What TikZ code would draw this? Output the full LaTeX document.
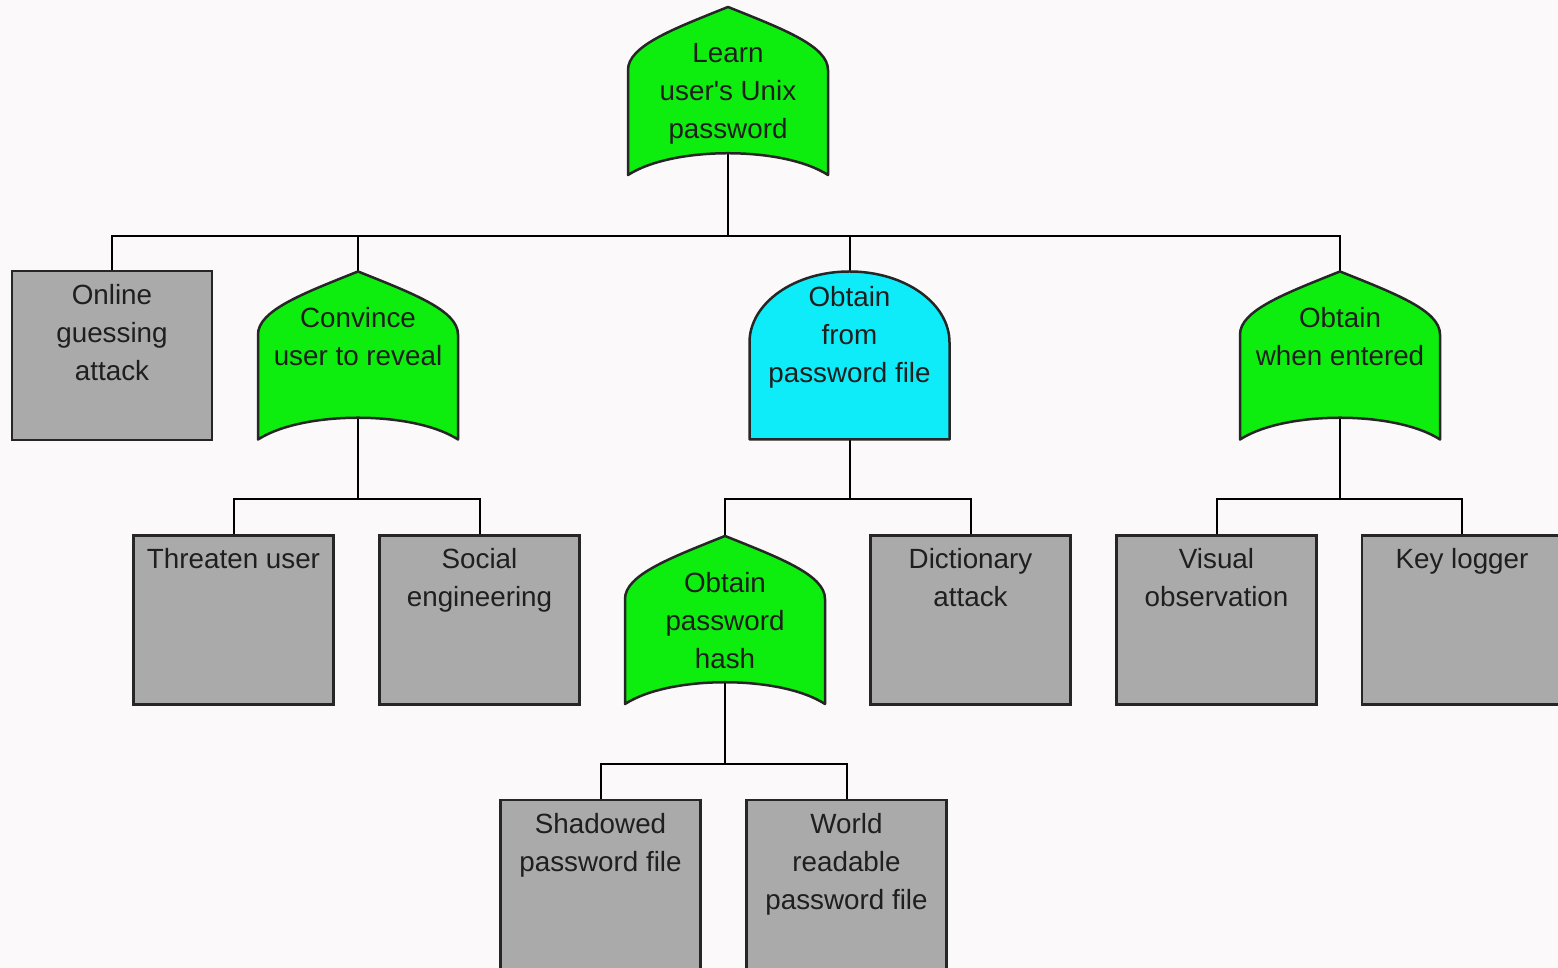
\documentclass[tikz,border=0pt]{standalone}
\usepackage{fontspec}
\setmainfont{Liberation Sans}[Ligatures=TeXOff]
\usetikzlibrary{positioning}
\definecolor{orgreen}{RGB}{14,238,14}
\definecolor{andcyan}{RGB}{14,236,250}
\definecolor{leafgray}{RGB}{170,170,170}
\definecolor{edgegray}{RGB}{38,38,38}
\definecolor{paper}{RGB}{251,249,249}
\pgfdeclarelayer{edgelayer}
\pgfdeclarelayer{background}
\pgfsetlayers{edgelayer,background,main}
\tikzstyle{leaf} = [rectangle, minimum width=200pt, minimum height=169pt, inner sep=0pt, draw=edgegray, line width=2.5pt, fill=leafgray, execute at begin node={\begin{minipage}[c][143pt][t]{190pt}\centering}, execute at end node={\end{minipage}}]
\tikzstyle{orgate} = [rectangle, minimum width=200pt, minimum height=168pt, inner sep=0pt, execute at begin node={\begin{minipage}[c][96pt][t]{190pt}\centering}, execute at end node={\end{minipage}}]
\tikzstyle{andgate} = [rectangle, minimum width=200pt, minimum height=168pt, inner sep=0pt, execute at begin node={\begin{minipage}[c][138pt][t]{190pt}\centering}, execute at end node={\end{minipage}}]
\tikzstyle{gateline} = [line width=2.5pt, draw=edgegray, line join=round]
\tikzstyle{link} = [line width=2pt, draw=black]
% gate outlines, drawn round the node centre
\newcommand{\orshape}[1]{\filldraw[gateline, fill=orgreen, shift={(#1.center)}] (-100,-84) -- (-100,21) .. controls (-100,45) and (-55,62) .. (0,84) .. controls (55,62) and (100,45) .. (100,21) -- (100,-84) .. controls (55,-55) and (-55,-55) .. cycle;}
\newcommand{\andshape}[1]{\filldraw[gateline, fill=andcyan, shift={(#1.center)}] (-100,-84) -- (-100,13) arc[start angle=180, end angle=0, x radius=100, y radius=71] -- (100,-84) -- cycle;}

\begin{document}
\begin{tikzpicture}[x=1pt, y=1pt, node distance=264.5pt, every node/.style={font=\fontsize{27.8pt}{38pt}\selectfont, text=black!88}]
	\useasboundingbox (0,0) rectangle (1558,968);

	\node (B1) [orgate] at (728,877) {Learn\\user's Unix\\password};

	\node (B2) [leaf, below of = B1, xshift = -616pt] {Online\\guessing\\attack};
	\node (B3) [orgate, below of = B1, xshift = -370pt] {Convince\\user to reveal};
	\node (B4) [andgate, below of = B1, xshift = 121.5pt] {Obtain\\from\\password file};
	\node (B5) [orgate, below of = B1, xshift = 612pt] {Obtain\\when entered};

	\node (B6) [leaf, below of = B3, xshift = -124.5pt] {Threaten user};
	\node (B7) [leaf, below of = B3, xshift = 121.5pt] {Social\\engineering};
	\node (B8) [orgate, below of = B4, xshift = -124.5pt] {Obtain\\password\\hash};
	\node (B9) [leaf, below of = B4, xshift = 121pt] {Dictionary\\attack};
	\node (B10) [leaf, below of = B5, xshift = -123.5pt] {Visual\\observation};
	\node (B11) [leaf, below of = B5, xshift = 122pt] {Key logger};

	\node (B12) [leaf, below of = B8, xshift = -124.5pt] {Shadowed\\password file};
	\node (B13) [leaf, below of = B8, xshift = 121.5pt] {World\\readable\\password file};

	\begin{pgfonlayer}{background}
		\orshape{B1}
		\orshape{B3}
		\andshape{B4}
		\orshape{B5}
		\orshape{B8}
	\end{pgfonlayer}

	\begin{pgfonlayer}{edgelayer}
		\fill[paper] (0,0) rectangle (1558,968);
		\draw [link] (B1.center) -- ++(0,-145) -| (B2);
		\draw [link] (B1.center) -- ++(0,-145) -| (B3);
		\draw [link] (B1.center) -- ++(0,-145) -| (B4);
		\draw [link] (B1.center) -- ++(0,-145) -| (B5);
		\draw [link] (B3.center) -- ++(0,-144) -| (B6);
		\draw [link] (B3.center) -- ++(0,-144) -| (B7);
		\draw [link] (B4.center) -- ++(0,-144) -| (B8);
		\draw [link] (B4.center) -- ++(0,-144) -| (B9);
		\draw [link] (B5.center) -- ++(0,-144) -| (B10);
		\draw [link] (B5.center) -- ++(0,-144) -| (B11);
		\draw [link] (B8.center) -- ++(0,-144.5) -| (B12);
		\draw [link] (B8.center) -- ++(0,-144.5) -| (B13);
	\end{pgfonlayer}
\end{tikzpicture}
\end{document}
